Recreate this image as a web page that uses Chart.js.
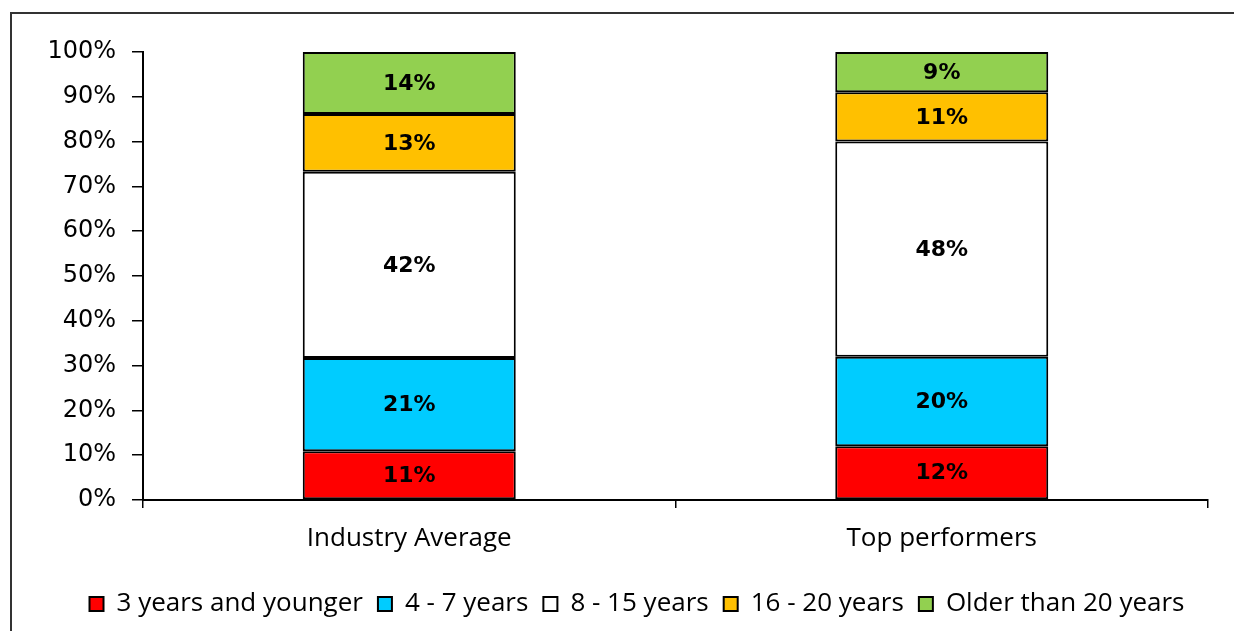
<!DOCTYPE html>
<html>
<head>
<meta charset="utf-8">
<script src="https://cdn.jsdelivr.net/npm/chart.js@4"></script>
<style>
    html, body { margin: 0; padding: 0; background: #fff; overflow: hidden; }
    #marco { position: absolute; left: 10px; top: 12px; width: 1240px; height: 640px; border: 2px solid #333; }
    #caja { position: absolute; left: 0; top: 0; width: 1234px; height: 631px; }
</style>
</head>
<body>
<div id="marco"></div>
<div id="caja"><canvas id="graficoEdad"></canvas></div>
<script>
const categorias = ['Industry Average', 'Top performers'];
const etiquetasSerie = ['3 years and younger', '4 - 7 years', '8 - 15 years', '16 - 20 years', 'Older than 20 years'];
const menor3 = [11, 12];
const de4a7 = [21, 20];
const de8a15 = [42, 48];
const de16a20 = [13, 11];
const mayor20 = [14, 9];
const colores = ['#FF0000', '#00CCFF', '#FFFFFF', '#FFC000', '#92D050'];
const ticksY = [0, 10, 20, 30, 40, 50, 60, 70, 80, 90, 100];

document.addEventListener("DOMContentLoaded", () => {
    const series = [menor3, de4a7, de8a15, de16a20, mayor20];

    // totales por categoria para normalizar al 100%
    const totales = categorias.map((c, i) => series.reduce((s, arr) => s + arr[i], 0));

    const datasets = series.map((arr, k) => ({
        label: etiquetasSerie[k],
        data: arr.map((v, i) => v / totales[i] * 100),
        valores: arr,
        backgroundColor: colores[k],
        borderColor: '#000',
        borderWidth: 2,
        borderSkipped: false,
        barPercentage: 0.4,
        categoryPercentage: 1
    }));

    // etiquetas dentro de cada segmento
    const etiquetasBarras = {
        id: 'etiquetasBarras',
        afterDatasetsDraw(chart) {
            const ctx = chart.ctx;
            ctx.save();
            ctx.font = 'bold 22px "DejaVu Sans"';
            ctx.fillStyle = '#000';
            ctx.textAlign = 'center';
            ctx.textBaseline = 'middle';
            chart.data.datasets.forEach((ds, k) => {
                chart.getDatasetMeta(k).data.forEach((bar, i) => {
                    ctx.fillText(ds.valores[i] + '%', bar.x, (bar.y + bar.base) / 2 + 1);
                });
            });
            ctx.restore();
        }
    };

    // la leyenda va un poco corrida a la derecha
    const moverLeyenda = {
        id: 'moverLeyenda',
        afterLayout(chart) {
            chart.legend.left += 33;
            chart.legend.right += 33;
        }
    };

    const grafico = document.querySelector("#graficoEdad");
    new Chart(grafico, {
        type: 'bar',
        data: { labels: categorias, datasets: datasets },
        options: {
            responsive: true,
            maintainAspectRatio: false,
            animation: false,
            layout: { padding: { top: 52, right: 26, left: 0, bottom: 4 } },
            plugins: {
                tooltip: { enabled: false },
                legend: {
                    position: 'bottom',
                    labels: {
                        color: '#000',
                        font: { family: 'Open Sans', size: 26 },
                        boxWidth: 14,
                        boxHeight: 14,
                        padding: 15
                    }
                }
            },
            scales: {
                x: {
                    stacked: true,
                    grid: { offset: true, drawOnChartArea: false, tickLength: 8, color: '#000', lineWidth: 1.5 },
                    border: { color: '#000', width: 2 },
                    ticks: { color: '#000', font: { family: 'Open Sans', size: 26 }, padding: 15 },
                    afterFit: (scale) => { scale.height = 76; }
                },
                y: {
                    stacked: true,
                    min: 0,
                    max: 100,
                    afterBuildTicks: (scale) => { scale.ticks = ticksY.map(v => ({ value: v })); },
                    grid: { drawOnChartArea: false, tickLength: 11, color: '#000', lineWidth: 1.5 },
                    border: { color: '#000', width: 2 },
                    ticks: {
                        color: '#000',
                        font: { family: 'DejaVu Sans', size: 24 },
                        padding: 16,
                        callback: (v) => v + '%'
                    },
                    afterFit: (scale) => { scale.width = 143; }
                }
            }
        },
        plugins: [etiquetasBarras, moverLeyenda]
    });
});
</script>
</body>
</html>
